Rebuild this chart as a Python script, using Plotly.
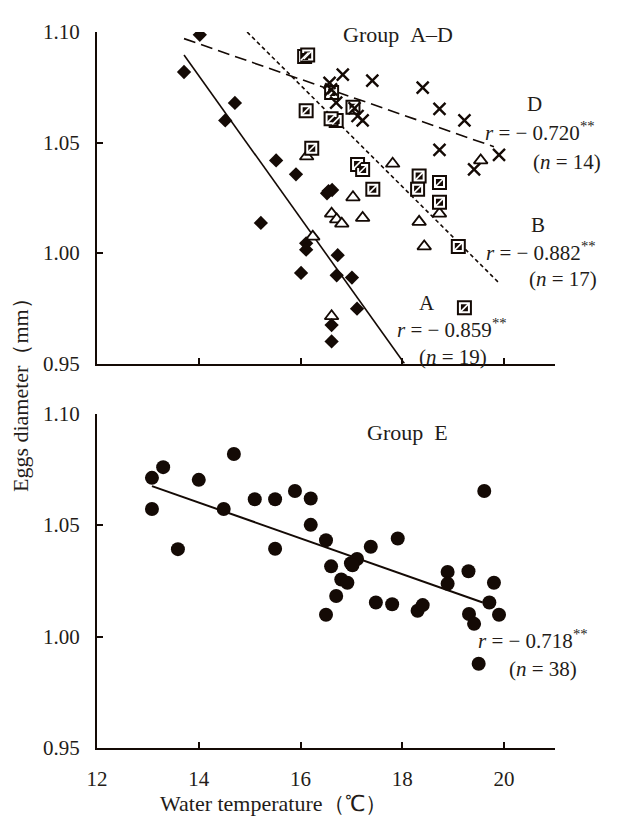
import plotly.graph_objects as go

# ---------------- data ----------------
# Group A (filled diamonds)
a_temp = [14.02, 13.71, 14.71, 14.52, 15.52, 15.91, 16.52, 16.62, 15.22, 16.11, 16.11,
          16.73, 16.01, 16.71, 17.01, 17.11, 16.61, 16.61, 16.55]
a_diam = [1.0987, 1.0819, 1.0679, 1.0600, 1.0419, 1.0356, 1.0270, 1.0285, 1.0136, 1.0044, 1.0015,
          0.9990, 0.9910, 0.9899, 0.9889, 0.9748, 0.9674, 0.9600, 1.0280]
# Group B (patterned squares)
b_temp = [16.08, 16.14, 16.11, 16.61, 16.70, 16.60, 17.03, 16.22, 17.12, 17.22, 17.42,
          18.33, 18.30, 18.73, 18.73, 19.10, 19.22]
b_diam = [1.0889, 1.0896, 1.0644, 1.0726, 1.0600, 1.0607, 1.0659, 1.0474, 1.0400, 1.0378, 1.0289,
          1.0348, 1.0289, 1.0319, 1.0230, 1.0030, 0.9752]
# Group C (open triangles)
c_temp = [16.12, 17.03, 16.61, 16.71, 16.81, 17.22, 16.24, 16.61, 17.81, 19.54, 18.73, 18.33, 18.73, 18.43]
c_diam = [1.0437, 1.0252, 1.0178, 1.0152, 1.0133, 1.0159, 1.0074, 0.9714, 1.0404, 1.0419, 1.0311,
          1.0141, 1.0178, 1.0030]
# Group D (crosses)
d_temp = [16.83, 17.41, 16.57, 16.70, 17.06, 17.12, 17.22, 18.40, 18.73, 19.22, 18.73, 19.41, 19.90, 16.60]
d_diam = [1.0807, 1.0780, 1.0770, 1.0680, 1.0655, 1.0620, 1.0600, 1.0748, 1.0652, 1.0600, 1.0467,
          1.0378, 1.0444, 1.0740]
# Group E (filled circles)
e_temp = [13.30, 13.08, 14.00, 14.69, 13.08, 14.49, 13.59, 15.10, 15.50, 15.89, 16.20, 16.20,
          15.50, 16.50, 17.38, 16.60, 16.99, 17.11, 16.80, 16.92, 19.61, 17.91, 18.89, 18.89,
          19.30, 19.80, 16.50, 16.70, 17.48, 17.80, 18.30, 18.40, 19.31, 19.41, 19.71, 19.90,
          19.50, 17.02]
e_diam = [1.0760, 1.0712, 1.0703, 1.0819, 1.0572, 1.0572, 1.0392, 1.0616, 1.0616, 1.0653, 1.0619, 1.0501,
          1.0394, 1.0432, 1.0403, 1.0315, 1.0329, 1.0348, 1.0256, 1.0241, 1.0653, 1.0440, 1.0290, 1.0237,
          1.0293, 1.0241, 1.0098, 1.0182, 1.0153, 1.0145, 1.0116, 1.0141, 1.0101, 1.0057, 1.0153, 1.0098,
          0.9878, 1.0320]

# fitted regression lines (end points)
fit_a_x = [13.71, 18.04]
fit_a_y = [1.0896, 0.9500]
fit_b_x = [14.95, 19.89]
fit_b_y = [1.1000, 0.9867]
fit_d_x = [13.71, 19.80]
fit_d_y = [1.0970, 1.0481]
fit_e_x = [13.08, 19.58]
fit_e_y = [1.0675, 1.0153]

x_ticks = [12, 14, 16, 18, 20]
y_ticks = [0.95, 1.00, 1.05, 1.10]
y_tick_text = ["0.95", "1.00", "1.05", "1.10"]

# ---------------- figure ----------------
FONT = "Liberation Serif"
INK = "#140a05"
TXT = "#231c18"
fig = go.Figure()

def line(x, y, dash, xa, ya, w=1.6):
    fig.add_trace(go.Scatter(x=x, y=y, mode="lines", xaxis=xa, yaxis=ya,
                             line=dict(color=INK, width=w, dash=dash), hoverinfo="skip"))

line(fit_a_x, fit_a_y, "solid", "x", "y")
line(fit_b_x, fit_b_y, "4px,3px", "x", "y")
line(fit_d_x, fit_d_y, "12px,6px", "x", "y")
line(fit_e_x, fit_e_y, "solid", "x2", "y2", 2)

# Group C triangles
fig.add_trace(go.Scatter(x=c_temp, y=c_diam, mode="markers", xaxis="x", yaxis="y",
                         marker=dict(symbol="triangle-up", size=12, color="white",
                                     line=dict(color=INK, width=1.8))))
# Group A diamonds
fig.add_trace(go.Scatter(x=a_temp, y=a_diam, mode="markers", xaxis="x", yaxis="y",
                         marker=dict(symbol="diamond", size=11, color=INK,
                                     line=dict(color=INK, width=0))))
# Group B patterned squares (outer frame + inner black + white diagonal)
fig.add_trace(go.Scatter(x=b_temp, y=b_diam, mode="markers", xaxis="x", yaxis="y",
                         marker=dict(symbol="square", size=13, color="white",
                                     line=dict(color=INK, width=2))))
fig.add_trace(go.Scatter(x=b_temp, y=b_diam, mode="markers", xaxis="x", yaxis="y",
                         marker=dict(symbol="square", size=7, color=INK,
                                     line=dict(color=INK, width=0))))
fig.add_trace(go.Scatter(x=b_temp, y=b_diam, mode="markers", xaxis="x", yaxis="y",
                         marker=dict(symbol="line-ne", size=8,
                                     line=dict(color="white", width=1.6))))
# Group D crosses
fig.add_trace(go.Scatter(x=d_temp, y=d_diam, mode="markers", xaxis="x", yaxis="y",
                         marker=dict(symbol="x-thin", size=12,
                                     line=dict(color=INK, width=2.4))))
# Group E circles
fig.add_trace(go.Scatter(x=e_temp, y=e_diam, mode="markers", xaxis="x2", yaxis="y2",
                         marker=dict(symbol="circle", size=14, color=INK,
                                     line=dict(color=INK, width=0))))

axis_common = dict(range=[12, 21.0], showline=True, linecolor=INK, linewidth=2,
                   ticks="inside", ticklen=6, tickwidth=1.6, tickcolor=INK,
                   tickvals=x_ticks, showgrid=False, zeroline=False,
                   tickfont=dict(family=FONT, size=21, color=TXT))
yaxis_common = dict(range=[0.95, 1.10], showline=True, linecolor=INK, linewidth=2,
                    ticks="inside", ticklen=6, tickwidth=1.6, tickcolor=INK,
                    tickvals=y_ticks, ticktext=y_tick_text, showgrid=False, zeroline=False,
                    ticklabelstandoff=11,
                    tickfont=dict(family=FONT, size=21, color=TXT))

# the page body has an 8px default margin, so the figure is 8px smaller here
fig.update_layout(
    width=611, height=817,
    margin=dict(l=89, r=64, t=12, b=77),
    paper_bgcolor="white", plot_bgcolor="white",
    showlegend=False,
    xaxis=dict(axis_common, domain=[0, 1], anchor="y", showticklabels=False),
    yaxis=dict(yaxis_common, domain=[0.537, 1.0], anchor="x"),
    xaxis2=dict(axis_common, domain=[0, 1], anchor="y2", ticklabelstandoff=11),
    yaxis2=dict(yaxis_common, domain=[0, 0.467], anchor="x2"),
)

def note(text, x, y, size=21, yanchor="middle", **kw):
    fig.add_annotation(text=text, x=x, y=y, xref="paper", yref="paper",
                       showarrow=False, xanchor="center", yanchor=yanchor,
                       borderpad=0,
                       font=dict(family=FONT, size=size, color=TXT), **kw)

note("Group&nbsp;&nbsp;A–D", 0.658, 0.997, size=22)
note("D", 0.956, 0.900)
note("<i>r</i> = − 0.720<sup>**</sup>", 0.967, 0.861)
note("(<i>n</i> = 14)", 1.027, 0.819)
note("B", 0.963, 0.730)
note("<i>r</i> = − 0.882<sup>**</sup>", 0.969, 0.694)
note("(<i>n</i> = 17)", 1.017, 0.655)
note("A", 0.720, 0.6035, yanchor="bottom")
note("<i>r</i> = − 0.859<sup>**</sup>", 0.775, 0.5655, yanchor="bottom")
note("(<i>n</i> = 19)", 0.777, 0.5645, yanchor="top")
note("Group&nbsp;&nbsp;E", 0.678, 0.441, size=22)
note("<i>r</i> = − 0.718<sup>**</sup>", 0.953, 0.152)
note("(<i>n</i> = 38)", 0.973, 0.111)
note("Water temperature（℃）", 0.386, -0.078, size=22)
note("Eggs diameter（mm）", -0.168, 0.50, size=22, textangle=-90)

fig.write_html("out.html")
